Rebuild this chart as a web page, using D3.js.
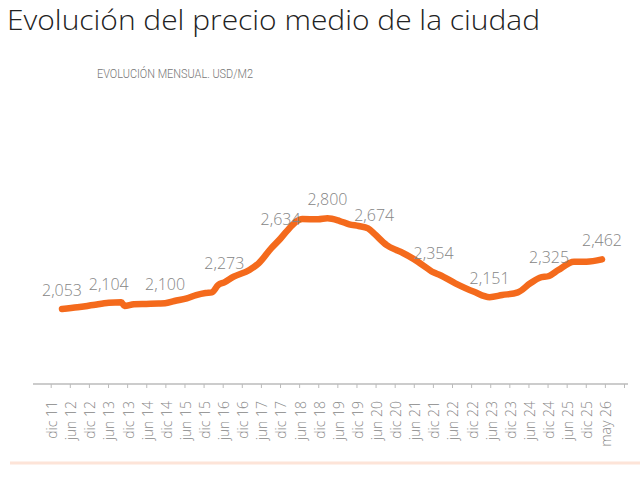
<!DOCTYPE html>
<html>
<head>
<meta charset="utf-8">
<script src="https://cdn.jsdelivr.net/npm/d3@7"></script>
<style>
  body { margin: 0; background: #fff; }
  svg { display: block; }
</style>
</head>
<body>
<div id="chart"></div>
<script>
// monthly readings (not every month, only where the line could be read)
const months = ["2011-12","2012-05","2012-10","2013-03","2013-07","2013-08","2013-11","2014-03","2014-07","2014-09",
  "2014-12","2015-04","2015-07","2015-10","2015-12","2016-02","2016-04","2016-07","2016-12","2017-03",
  "2017-07","2017-10","2017-12","2018-03","2018-05","2018-10","2019-01","2019-05","2019-08","2019-11",
  "2020-02","2020-04","2020-08","2020-11","2021-01","2021-06","2021-09","2021-11","2022-01","2022-06",
  "2022-12","2023-05","2023-09","2024-02","2024-06","2024-09","2024-12","2025-03","2025-08","2025-12","2026-05"];
const prices = [2053,2067,2086,2104,2108,2078,2092,2095,2098,2100,
  2119,2141,2168,2185,2190,2251,2273,2319,2374,2429,
  2553,2634,2695,2772,2794,2792,2800,2778,2751,2737,
  2718,2674,2580,2539,2517,2443,2388,2354,2333,2265,
  2195,2151,2168,2190,2265,2311,2325,2374,2443,2443,2462];

// value labels
const labelMonths = ["2011-12","2013-03","2014-09","2016-04","2017-10","2019-01","2020-04","2021-11","2023-05","2024-12","2026-05"];
const labelValues = [2053,2104,2100,2273,2634,2800,2674,2354,2151,2325,2462];

// axis categories
const axisLabels = ["dic 11","jun 12","dic 12","jun 13","dic 13","jun 14","dic 14","jun 15","dic 15","jun 16",
  "dic 16","jun 17","dic 17","jun 18","dic 18","jun 19","dic 19","jun 20","dic 20","jun 21",
  "dic 21","jun 22","dic 22","jun 23","dic 23","jun 24","dic 24","jun 25","dic 25","may 26"];

const width = 640, height = 480;
const parse = d3.timeParse("%Y-%m");
const fmt = d3.format(",");

const svg = d3.select("#chart").append("svg")
  .attr("width", width)
  .attr("height", height);

// title
svg.append("text")
  .attr("x", 7)
  .attr("y", 30)
  .attr("textLength", 533)
  .attr("lengthAdjust", "spacingAndGlyphs")
  .style("font-family", "'Open Sans', sans-serif")
  .style("font-weight", 300)
  .style("font-size", "28px")
  .attr("fill", "#222")
  .text("Evolución del precio medio de la ciudad");

svg.append("text")
  .attr("x", 97)
  .attr("y", 78)
  .attr("textLength", 156)
  .attr("lengthAdjust", "spacingAndGlyphs")
  .style("font-family", "Roboto, sans-serif")
  .style("font-weight", 300)
  .style("font-size", "12px")
  .attr("fill", "#777")
  .text("EVOLUCIÓN MENSUAL. USD/M2");

// scales
const x = d3.scaleTime()
  .domain([parse("2011-12"), parse("2026-05")])
  .range([62, 602]);

const y = d3.scaleLinear()
  .domain([1900, 2900])
  .range([327.6, 206.2]);

const xCat = d3.scalePoint()
  .domain(axisLabels.concat([""]))
  .range([50.7, 624]);

// x axis
const gx = svg.append("g")
  .attr("transform", "translate(0,384)")
  .call(d3.axisBottom(xCat).tickSize(4).tickSizeOuter(0).tickPadding(4));

gx.select(".domain")
  .attr("d", "M33,0H628")
  .attr("stroke", "#bbb")
  .attr("stroke-width", 1.5);
gx.selectAll(".tick line").attr("stroke", "#bbb");
gx.selectAll(".tick text")
  .attr("transform", "rotate(-90)")
  .attr("text-anchor", "end")
  .attr("x", -17)
  .attr("y", 1)
  .attr("dy", "0.35em")
  .style("font-family", "'Open Sans', sans-serif")
  .style("font-weight", 300)
  .style("font-size", "14px")
  .attr("fill", "#888");

// line
const data = months.map((m, i) => ({ date: parse(m), value: prices[i] }));

const line = d3.line()
  .x(d => x(d.date))
  .y(d => y(d.value))
  .curve(d3.curveMonotoneX);

svg.append("path")
  .datum(data)
  .attr("fill", "none")
  .attr("stroke", "#f46a1c")
  .attr("stroke-width", 6.5)
  .attr("stroke-linejoin", "round")
  .attr("stroke-linecap", "round")
  .attr("d", line);

// value labels
svg.selectAll(".vlabel")
  .data(labelMonths.map((m, i) => ({ date: parse(m), value: labelValues[i] })))
  .enter()
  .append("text")
  .attr("class", "vlabel")
  .attr("x", d => x(d.date))
  .attr("y", d => y(d.value) - 13)
  .attr("text-anchor", "middle")
  .style("font-family", "'Open Sans', sans-serif")
  .style("font-weight", 300)
  .style("font-size", "16px")
  .attr("fill", "#858585")
  .text(d => fmt(d.value));

// bottom peach rule
svg.append("line")
  .attr("x1", 10).attr("x2", 640)
  .attr("y1", 463).attr("y2", 463)
  .attr("stroke", "#fde4d8")
  .attr("stroke-width", 3);
</script>
</body>
</html>
